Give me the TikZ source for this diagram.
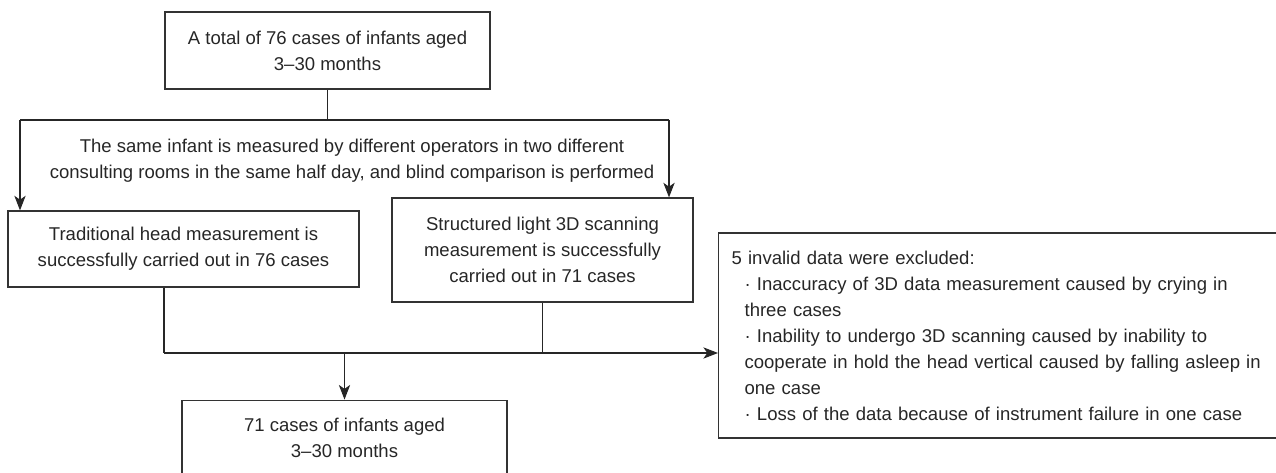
\documentclass[tikz,border=0pt]{standalone}
\usepackage{fontspec}
\setmainfont{Liberation Sans}
\usetikzlibrary{arrows.meta}
\begin{document}
\begin{tikzpicture}[x=0.75pt,y=-0.75pt,
  txt/.style={inner sep=0pt, align=center, font=\fontsize{13.9}{19.5}\selectfont, text=black!85},
  box/.style={txt, draw=black!80, line width=0.9pt},
  conn/.style={draw=black!85, line width=0.8pt},
  arr/.style={conn, -{Stealth[length=11pt,width=8.5pt,inset=3pt]}}]
\useasboundingbox (0,0) rectangle (1276,473);
\node[box, minimum width=243.75pt, minimum height=57.75pt] (top) at (327.5,50.5)
  {A total of 76 cases of infants aged\\3--30 months};
\node[txt] (mid) at (352,161)
  {The same infant is measured by different operators in two different\\consulting rooms in the same half day, and blind comparison is performed};
\node[box, minimum width=263.25pt, minimum height=57pt] (trad) at (183.5,249)
  {Traditional head measurement is\\successfully carried out in 76 cases};
\node[box, minimum width=225.75pt, minimum height=78pt] (scan) at (542.5,250)
  {Structured light 3D scanning\\measurement is successfully\\carried out in 71 cases};
\node[box, anchor=west, minimum height=153.75pt, inner xsep=9.75pt, text width=402pt, align=left] (inv) at (718,335.5)
  {5 invalid data were excluded:\\
   \hspace*{9.75pt}· Inaccuracy of 3D data measurement caused by crying in\\
   \hspace*{9.75pt}three cases\\
   \hspace*{9.75pt}· Inability to undergo 3D scanning caused by inability to\\
   \hspace*{9.75pt}cooperate in hold the head vertical caused by falling asleep in\\
   \hspace*{9.75pt}one case\\
   \hspace*{9.75pt}· Loss of the data because of instrument failure in one case};
\node[box, minimum width=243.75pt, minimum height=56pt] (res) at (344.5,437.5)
  {71 cases of infants aged\\3--30 months};
\coordinate (hl) at (20,120);
\coordinate (hr) at (669,120);
\coordinate (bl) at (164,353);
\draw[conn] (top.south) -- (top.south |- hl);
\draw[conn] (hl) -- (hr);
\draw[arr] (hl) -- (hl |- trad.north);
\draw[arr] (hr) -- (hr |- scan.north);
\draw[conn] (bl |- trad.south) -- (bl);
\draw[arr] (bl) -- (bl -| inv.west);
\draw[conn] (scan.south) -- (scan.south |- bl);
\draw[arr] (res.north |- bl) -- (res.north);
\end{tikzpicture}
\end{document}
